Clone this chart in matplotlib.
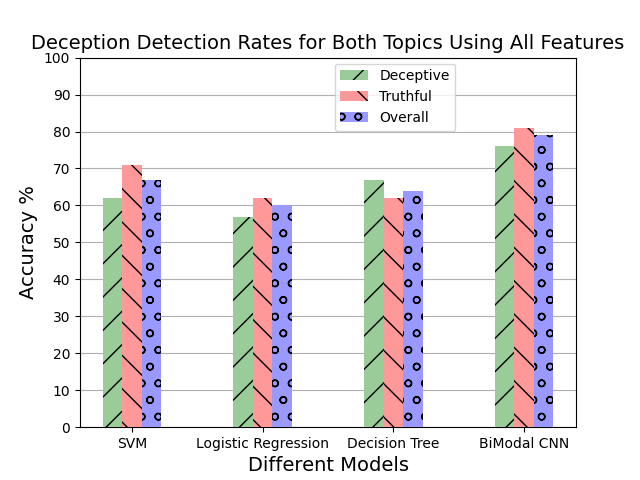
import numpy as np
import matplotlib
matplotlib.use('Agg')
import matplotlib.pyplot as plt

models = ['SVM', 'Logistic Regression', 'Decision Tree', 'BiModal CNN']
deceptive = [62, 57, 67, 76]
truthful = [71, 62, 62, 81]
overall = [67, 60, 64, 79]

plt.rcParams['hatch.color'] = 'black'

index = np.arange(len(models))
width = 0.15

fig, ax = plt.subplots(figsize=(6.4, 4.8), dpi=100)
ax.bar(index - width, deceptive, width, color='#99cc99', hatch='/', linewidth=0, label='Deceptive', zorder=3)
ax.bar(index, truthful, width, color='#ff9999', hatch='\\', linewidth=0, label='Truthful', zorder=3)
ax.bar(index + width, overall, width, color='#9999ff', hatch='o', linewidth=0, label='Overall', zorder=3)

ax.set_ylim(0, 100)
ax.set_yticks(np.arange(0, 101, 10))
ax.set_xticks(index)
ax.set_xticklabels(models)
ax.yaxis.grid(True, color='#b0b0b0', linewidth=0.8)
ax.set_axisbelow(True)

ax.set_title('Deception Detection Rates for Both Topics Using All Features', fontsize=14)
ax.set_ylabel('Accuracy %', fontsize=14)
ax.set_xlabel('Different Models', fontsize=14)
ax.legend(loc='upper left', bbox_to_anchor=(0.514, 0.984), borderaxespad=0)

plt.savefig('out.png')
plt.close()
